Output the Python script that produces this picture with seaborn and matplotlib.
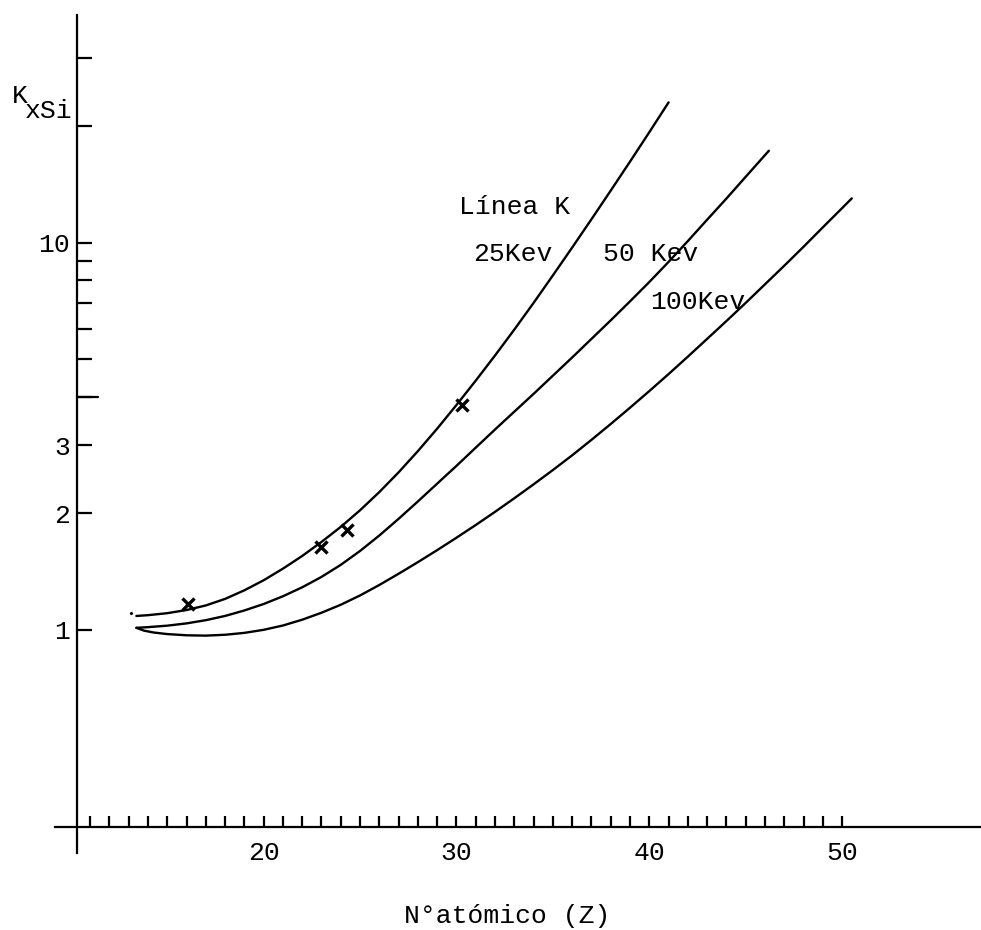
import numpy as np
import pandas as pd
import matplotlib
matplotlib.use("Agg")
import matplotlib.pyplot as plt
import seaborn as sns
from matplotlib.ticker import NullFormatter

# Curves (Z = atomic number, K = K_xSi ratio, log axis)
z_25 = [13.4, 14, 15, 16, 17, 18, 19, 20, 21, 22, 23, 24, 25, 26, 27,
        28, 29, 30, 31, 32, 33, 34, 35, 36, 37, 38, 39, 40, 41]
k_25 = [1.086, 1.091, 1.104, 1.125, 1.156, 1.202, 1.265, 1.343, 1.439,
        1.552, 1.687, 1.845, 2.037, 2.270, 2.553, 2.897, 3.311, 3.811,
        4.406, 5.117, 5.970, 6.998, 8.241, 9.727, 11.51, 13.65, 16.22,
        19.32, 23.07]

z_50 = [13.4, 14, 15, 16, 17, 18, 19, 20, 21, 22, 23, 24, 25, 26, 27,
        28, 29, 30, 31, 32, 33, 34, 35, 36, 37, 38, 39, 40, 41, 42, 43,
        44, 45, 46, 46.2]
k_50 = [1.012, 1.016, 1.025, 1.039, 1.059, 1.086, 1.122, 1.166, 1.221,
        1.288, 1.370, 1.472, 1.599, 1.753, 1.936, 2.147, 2.387, 2.653,
        2.957, 3.294, 3.663, 4.072, 4.538, 5.056, 5.647, 6.307, 7.061,
        7.923, 8.930, 10.11, 11.48, 13.02, 14.82, 16.86, 17.30]

z_100 = [13.4, 13.8, 14.3, 15, 16, 17, 18, 19, 20, 21, 22, 23, 24, 25,
         26, 27, 28, 29, 30, 31, 32, 33, 34, 35, 36, 37, 38, 39, 40, 41,
         42, 43, 44, 45, 46, 47, 48, 49, 50, 50.5]
k_100 = [1.012, 0.995, 0.984, 0.975, 0.968, 0.966, 0.971, 0.982, 1.000,
         1.026, 1.062, 1.107, 1.161, 1.227, 1.306, 1.396, 1.496, 1.607,
         1.730, 1.866, 2.018, 2.188, 2.377, 2.588, 2.825, 3.097, 3.404,
         3.750, 4.140, 4.581, 5.082, 5.649, 6.281, 6.998, 7.816, 8.730,
         9.772, 10.97, 12.30, 13.03]

# measured points (crosses) and the lone dot
z_exp = [16.1, 23.0, 24.3, 30.3]
k_exp = [1.167, 1.639, 1.813, 3.81]
z_dot = [13.1]
k_dot = [1.106]

x_major = [20, 30, 40, 50]
x_minor = [z for z in range(11, 51) if z % 10 != 0]
y_major = [1, 2, 3, 10]
y_minor = [4, 5, 6, 7, 8, 9, 20, 30]

df = pd.concat([
    pd.DataFrame({"Z": z_25, "K": k_25, "E": "25Kev"}),
    pd.DataFrame({"Z": z_50, "K": k_50, "E": "50 Kev"}),
    pd.DataFrame({"Z": z_100, "K": k_100, "E": "100Kev"}),
])

sns.set_theme(style="white")
plt.rcParams["font.family"] = ["Liberation Mono", "DejaVu Sans"]
plt.rcParams["text.color"] = "black"
plt.rcParams["axes.edgecolor"] = "black"
plt.rcParams["xtick.color"] = "black"
plt.rcParams["ytick.color"] = "black"

W, H = 981, 930
fig = plt.figure(figsize=(W / 100, H / 100), dpi=100)
ax = fig.add_axes([55 / W, 1 - 853 / H, 926 / W, 838 / H])

sns.lineplot(data=df, x="Z", y="K", hue="E", palette=["black"] * 3,
             legend=False, lw=1.7, ax=ax)
sns.scatterplot(x=z_exp, y=k_exp, marker="x", color="black", s=75,
                linewidth=2.4, ax=ax)
sns.scatterplot(x=z_dot, y=k_dot, marker="o", color="black", s=6, ax=ax)

ax.set_yscale("log")
ax.set_xlim(9.18, 57.2)
ax.set_ylim(0.265, 38.8)

# axes crossing like the hand-drawn frame
ax.spines["left"].set_position(("data", 10.33))
ax.spines["bottom"].set_position(("data", 0.3097))
ax.spines["top"].set_visible(False)
ax.spines["right"].set_visible(False)
for s in ["left", "bottom"]:
    ax.spines[s].set_linewidth(1.6)

ax.set_xticks(x_major, labels=[str(v) for v in x_major])
ax.set_xticks(x_minor, minor=True)
ax.set_yticks(y_major, labels=[str(v) for v in y_major])
ax.set_yticks(y_minor, minor=True)
ax.yaxis.set_minor_formatter(NullFormatter())
ax.tick_params(axis="x", which="both", bottom=True, top=False,
               direction="in", length=8, width=1.6, pad=10, labelsize=19)
ax.tick_params(axis="y", which="both", left=True, right=False,
               direction="in", length=11, width=1.6, pad=5, labelsize=19)
# longer tick at 4
ax.plot([10.33, 11.4], [4, 4], color="black", lw=1.6, clip_on=False)

ax.set_xlabel("")
ax.set_ylabel("")

ax.text(33.0, 12.4, "Línea K", ha="center", va="center", fontsize=19)
ax.text(32.9, 9.37, "25Kev", ha="center", va="center", fontsize=19)
ax.text(40.05, 9.37, "50 Kev", ha="center", va="center", fontsize=19)
ax.text(42.5, 7.04, "100Kev", ha="center", va="center", fontsize=19)

fig.text(12 / W, 1 - 103 / H, "K", ha="left", va="baseline", fontsize=19)
fig.text(25 / W, 1 - 118 / H, "xSi", ha="left", va="baseline", fontsize=19)
fig.text(507 / W, 1 - 916 / H, "N°atómico (Z)", ha="center", va="center",
         fontsize=19)

fig.savefig("out.png", dpi=100)
